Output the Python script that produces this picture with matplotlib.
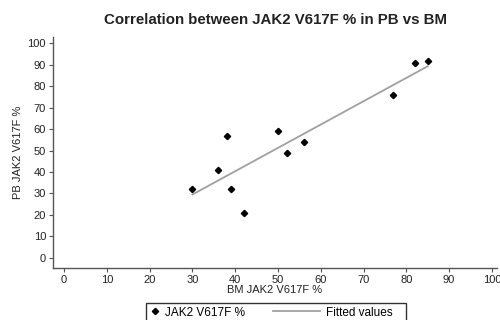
import matplotlib.pyplot as plt
from matplotlib.legend_handler import HandlerLine2D
import numpy as np

plt.rcParams['font.family'] = ['Liberation Sans', 'DejaVu Sans']

# BM vs PB JAK2 V617F allele burden (%)
bm = [30, 36, 38, 39, 42, 50, 52, 56, 77, 82, 85]
pb = [32, 41, 57, 32, 21, 59, 49, 54, 76, 91, 92]
xticks = list(range(0, 101, 10))
yticks = list(range(0, 101, 10))


class LongLine(HandlerLine2D):
    # stretch the fitted-line handle to the left
    def create_artists(self, legend, orig_handle, xdescent, ydescent,
                       width, height, fontsize, trans):
        extra = 27
        return super().create_artists(legend, orig_handle, xdescent + extra, ydescent,
                                      width + extra, height, fontsize, trans)


fig = plt.figure(figsize=(5, 3.2), dpi=100)
ax = fig.add_axes([0.106, 0.1625, 0.888, 0.722])

# linear fit
k, b = np.polyfit(bm, pb, 1)
xf = np.array([min(bm), max(bm)])
ax.plot(bm, pb, 'D', color='black', markersize=3.2, label='JAK2 V617F %')
fit, = ax.plot(xf, k * xf + b, color='#a0a0a0', lw=1.3, label='Fitted values   ')

ax.set_xlim(-2.6, 101.2)
ax.set_ylim(-4.8, 103)
ax.set_xticks(xticks)
ax.set_yticks(yticks)
ax.tick_params(labelsize=8, length=3, color='#555555', labelcolor='#222222', pad=2)
for s in ['top', 'right']:
    ax.spines[s].set_visible(False)
for s in ['left', 'bottom']:
    ax.spines[s].set_color('#555555')
    ax.spines[s].set_linewidth(1.0)

ax.set_xlabel('BM JAK2 V617F %', fontsize=8, labelpad=0, color='#222222')
ax.set_ylabel('PB JAK2 V617F %', fontsize=8, labelpad=3, color='#222222')
fig.text(0.55, 0.925, 'Correlation between JAK2 V617F % in PB vs BM',
         ha='center', fontsize=10.8, fontweight='bold', color='#222222')

leg = fig.legend(loc='upper center', bbox_to_anchor=(0.5524, 0.053), ncol=2,
                 fontsize=8.5, frameon=True, fancybox=False, edgecolor='black',
                 handlelength=0.8, columnspacing=5.55, borderpad=0.3, handletextpad=0.5,
                 borderaxespad=0, handler_map={fit: LongLine()})
leg.get_frame().set_linewidth(1.0)

fig.savefig('out.png', dpi=100)
